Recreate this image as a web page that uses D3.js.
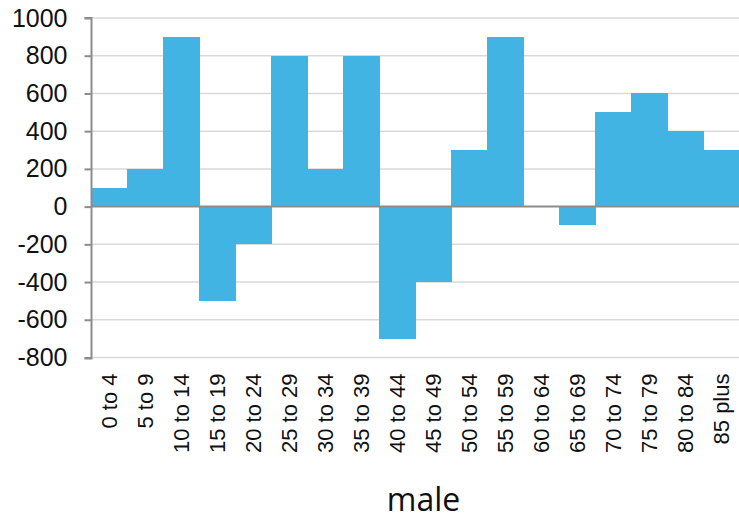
<!DOCTYPE html>
<html>
<head>
<meta charset="utf-8">
<script src="https://cdn.jsdelivr.net/npm/d3@7"></script>
<style>
  html, body { margin: 0; padding: 0; background: #fff; }
  svg { display: block; }
</style>
</head>
<body>
<svg id="chart" width="739" height="521"></svg>
<script>
// Age groups and net change for males
const categories = ["0 to 4", "5 to 9", "10 to 14", "15 to 19", "20 to 24", "25 to 29",
  "30 to 34", "35 to 39", "40 to 44", "45 to 49", "50 to 54", "55 to 59",
  "60 to 64", "65 to 69", "70 to 74", "75 to 79", "80 to 84", "85 plus"];
const values = [100, 200, 900, -500, -200, 800, 200, 800, -700, -400, 300, 900,
  0, -100, 500, 600, 400, 300];
const yTicks = [-800, -600, -400, -200, 0, 200, 400, 600, 800, 1000];
const title = "male";

const svg = d3.select("#chart");
const plotLeft = 91.5, plotRight = 739, plotTop = 18, plotBottom = 357.5;
const labelFont = "'Liberation Sans', Arial, sans-serif";

const x = d3.scaleBand().domain(categories).range([plotLeft, plotRight]).padding(0);
const y = d3.scaleLinear().domain([-800, 1000]).range([plotBottom, plotTop]);

// Horizontal gridlines
svg.append("g")
  .selectAll("line")
  .data(yTicks.filter(d => d !== 0))
  .join("line")
  .attr("x1", plotLeft).attr("x2", plotRight)
  .attr("y1", d => y(d)).attr("y2", d => y(d))
  .attr("stroke", "#d9d9d9").attr("stroke-width", 1.5);

// Bars (no gaps between adjacent age groups)
svg.append("g")
  .attr("shape-rendering", "crispEdges")
  .selectAll("rect")
  .data(categories.map((c, i) => ({ c, v: values[i] })))
  .join("rect")
  .attr("x", d => x(d.c))
  .attr("width", x.bandwidth() + 0.5)
  .attr("y", d => y(Math.max(0, d.v)))
  .attr("height", d => Math.abs(y(d.v) - y(0)))
  .attr("fill", "#42b4e4");

// Zero line
svg.append("line")
  .attr("x1", plotLeft).attr("x2", plotRight)
  .attr("y1", y(0)).attr("y2", y(0))
  .attr("stroke", "#8c8c8c").attr("stroke-width", 2);

// Y axis (plain hyphen for negatives)
const yAxis = d3.axisLeft(y).tickValues(yTicks).tickSize(7).tickPadding(17)
  .tickFormat(d => String(d));
const gy = svg.append("g").attr("transform", `translate(${plotLeft},0)`).call(yAxis);
gy.select(".domain").attr("stroke", "#8c8c8c").attr("stroke-width", 2)
  .attr("d", `M-7,${plotTop}H0V${plotBottom + 1}H-7`);
gy.selectAll(".tick line").attr("stroke", "#8c8c8c").attr("stroke-width", 2);
gy.selectAll(".tick text")
  .style("font-family", labelFont)
  .style("font-size", "25px").attr("fill", "#111");

// Category labels, rotated
const xAxis = d3.axisBottom(x).tickSize(0).tickPadding(0);
const gx = svg.append("g").attr("transform", `translate(0,${plotBottom})`).call(xAxis);
gx.select(".domain").remove();
gx.selectAll(".tick text")
  .style("font-family", labelFont)
  .style("font-size", "22px").attr("fill", "#111")
  .attr("text-anchor", "end")
  .attr("transform", "translate(0,16) rotate(-90)")
  .attr("x", 0).attr("y", 0).attr("dy", "0.35em");

// Title
svg.append("text")
  .attr("x", 423.5).attr("y", 511)
  .attr("text-anchor", "middle")
  .style("font-family", "'Open Sans', 'Noto Sans', sans-serif")
  .style("font-size", "32px").attr("fill", "#111")
  .text(title);
</script>
</body>
</html>
